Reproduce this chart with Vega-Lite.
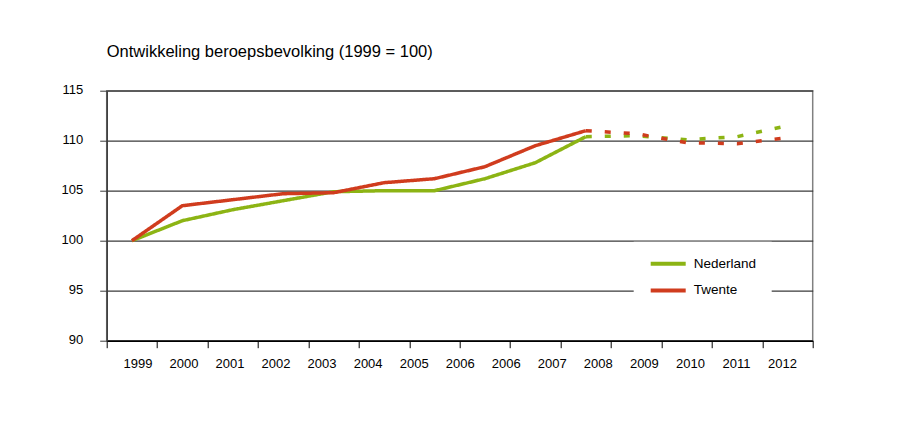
{
  "$schema": "https://vega.github.io/schema/vega-lite/v6.json",
  "autosize": {"type": "none"},
  "width": 706,
  "height": 250,
  "padding": {"left": 106.7, "top": 90.7, "right": 97.3, "bottom": 80.3},
  "background": "white",
  "config": {
    "font": "Liberation Sans",
    "view": {"stroke": "#808080", "strokeWidth": 1.5},
    "axis": {"labelColor": "black", "labelFont": "Liberation Sans", "labelFontSize": 13}
  },
  "title": {
    "text": "Ontwikkeling beroepsbevolking (1999 = 100)",
    "anchor": "start",
    "frame": "group",
    "fontSize": 16.5,
    "fontWeight": "normal",
    "color": "black",
    "font": "Liberation Sans",
    "offset": 23
  },
  "layer": [
    {
      "data": {
        "values": [
          {"year": 1999, "value": 100.0, "series": "Nederland", "segment": "actual"},
          {"year": 2000, "value": 102.0, "series": "Nederland", "segment": "actual"},
          {"year": 2001, "value": 103.1, "series": "Nederland", "segment": "actual"},
          {"year": 2002, "value": 104.0, "series": "Nederland", "segment": "actual"},
          {"year": 2003, "value": 104.9, "series": "Nederland", "segment": "actual"},
          {"year": 2004, "value": 105.0, "series": "Nederland", "segment": "actual"},
          {"year": 2005, "value": 105.0, "series": "Nederland", "segment": "actual"},
          {"year": 2006, "value": 106.2, "series": "Nederland", "segment": "actual"},
          {"year": 2007, "value": 107.8, "series": "Nederland", "segment": "actual"},
          {"year": 2008, "value": 110.4, "series": "Nederland", "segment": "actual"},
          {"year": 2008, "value": 110.4, "series": "Nederland", "segment": "forecast"},
          {"year": 2009, "value": 110.5, "series": "Nederland", "segment": "forecast"},
          {"year": 2010, "value": 110.1, "series": "Nederland", "segment": "forecast"},
          {"year": 2011, "value": 110.4, "series": "Nederland", "segment": "forecast"},
          {"year": 2012, "value": 111.5, "series": "Nederland", "segment": "forecast"},
          {"year": 1999, "value": 100.0, "series": "Twente", "segment": "actual"},
          {"year": 2000, "value": 103.5, "series": "Twente", "segment": "actual"},
          {"year": 2001, "value": 104.1, "series": "Twente", "segment": "actual"},
          {"year": 2002, "value": 104.7, "series": "Twente", "segment": "actual"},
          {"year": 2003, "value": 104.8, "series": "Twente", "segment": "actual"},
          {"year": 2004, "value": 105.8, "series": "Twente", "segment": "actual"},
          {"year": 2005, "value": 106.2, "series": "Twente", "segment": "actual"},
          {"year": 2006, "value": 107.4, "series": "Twente", "segment": "actual"},
          {"year": 2007, "value": 109.5, "series": "Twente", "segment": "actual"},
          {"year": 2008, "value": 111.0, "series": "Twente", "segment": "actual"},
          {"year": 2008, "value": 111.0, "series": "Twente", "segment": "forecast"},
          {"year": 2009, "value": 110.7, "series": "Twente", "segment": "forecast"},
          {"year": 2010, "value": 109.8, "series": "Twente", "segment": "forecast"},
          {"year": 2011, "value": 109.7, "series": "Twente", "segment": "forecast"},
          {"year": 2012, "value": 110.3, "series": "Twente", "segment": "forecast"}
        ]
      },
      "mark": {"type": "line", "strokeWidth": 3.5, "clip": false},
      "encoding": {
        "x": {
          "field": "year",
          "type": "quantitative",
          "scale": {"domain": [1998.5, 2012.5], "nice": false, "zero": false},
          "axis": {
            "orient": "bottom",
            "title": null,
            "labels": false,
            "grid": false,
            "values": [1998.5, 1999.5, 2000.5, 2001.5, 2002.5, 2003.5, 2004.5, 2005.5, 2006.5, 2007.5, 2008.5, 2009.5, 2010.5, 2011.5, 2012.5],
            "tickSize": 7,
            "tickColor": "black",
            "domainColor": "black",
            "domainWidth": 1.5
          }
        },
        "y": {
          "field": "value",
          "type": "quantitative",
          "scale": {"domain": [90, 115], "nice": false, "zero": false},
          "axis": {
            "title": null,
            "values": [90, 95, 100, 105, 110, 115],
            "grid": true,
            "gridColor": "#3a3a3a",
            "gridWidth": 1.2,
            "tickSize": 7,
            "tickColor": "#3a3a3a",
            "domainColor": "#3a3a3a",
            "domainWidth": 1.5,
            "labelPadding": 17,
            "labelOffset": -1
          }
        },
        "color": {
          "field": "series",
          "type": "nominal",
          "scale": {"domain": ["Nederland", "Twente"], "range": ["#8cb414", "#d03c1e"]},
          "legend": {
            "title": null,
            "orient": "none",
            "legendX": 527,
            "legendY": 151,
            "fillColor": "white",
            "padding": 15,
            "symbolType": "stroke",
            "symbolSize": 1225,
            "symbolStrokeWidth": 4,
            "labelFontSize": 13.5,
            "labelFont": "Liberation Sans",
            "labelColor": "black",
            "labelOffset": 6,
            "clipHeight": 14,
            "rowPadding": 12.7
          }
        },
        "strokeDash": {
          "field": "segment",
          "type": "nominal",
          "scale": {"domain": ["actual", "forecast"], "range": [[1, 0], [6, 13]]},
          "legend": null
        },
        "detail": {"field": "segment"}
      }
    },
    {
      "data": {
        "values": [
          {"label": "1999"}, {"label": "2000"}, {"label": "2001"}, {"label": "2002"},
          {"label": "2003"}, {"label": "2004"}, {"label": "2005"}, {"label": "2006"},
          {"label": "2006 (2)"}, {"label": "2007"}, {"label": "2008"}, {"label": "2009"},
          {"label": "2010"}, {"label": "2011"}, {"label": "2012"}
        ]
      },
      "mark": {"type": "point", "opacity": 0},
      "encoding": {
        "x": {
          "field": "label",
          "type": "ordinal",
          "sort": null,
          "scale": {"type": "point", "padding": 0.667},
          "axis": {
            "orient": "bottom",
            "title": null,
            "ticks": false,
            "domain": false,
            "grid": false,
            "labelAngle": 0,
            "labelPadding": 17,
            "labelExpr": "slice(datum.value, 0, 4)"
          }
        }
      }
    }
  ],
  "resolve": {"scale": {"x": "independent"}, "axis": {"x": "independent"}}
}
